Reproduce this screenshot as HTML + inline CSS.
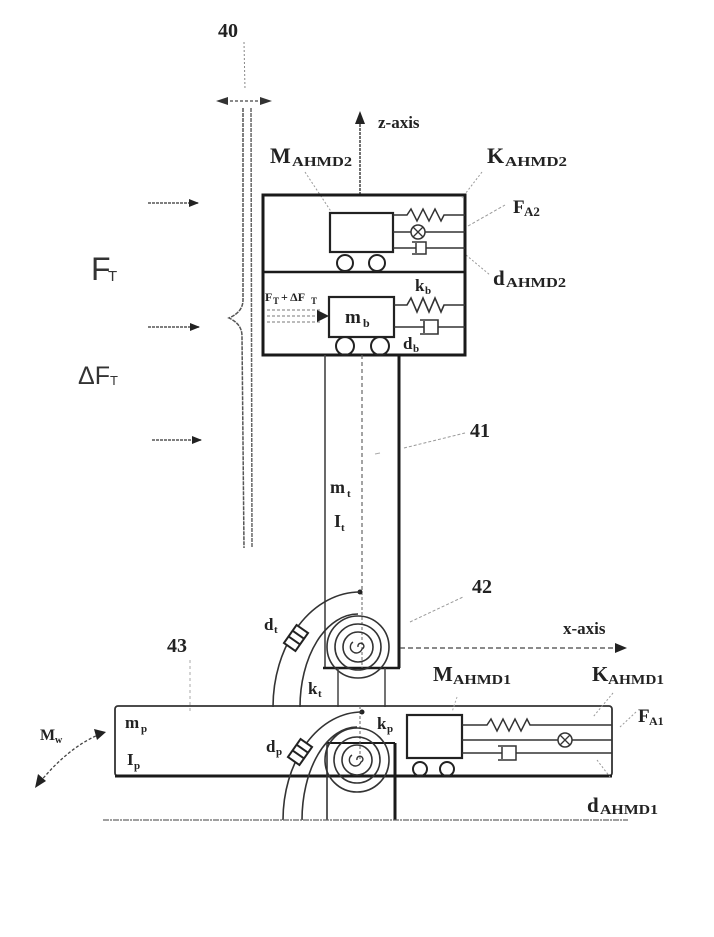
<!DOCTYPE html>
<html><head><meta charset="utf-8"><style>
html,body{margin:0;padding:0;background:#fff;}
svg{display:block;}
.s{font-family:"Liberation Serif",serif;font-weight:bold;fill:#222;}
.a{font-family:"Liberation Sans",sans-serif;fill:#333;}
</style></head><body>
<svg width="714" height="937" viewBox="0 0 714 937" xmlns="http://www.w3.org/2000/svg">
<defs>
<marker id="ah" markerWidth="10" markerHeight="8" refX="9" refY="4" orient="auto" markerUnits="userSpaceOnUse">
<path d="M0,0 L10,4 L0,8 Z" fill="#222"/></marker>
</defs>
<rect width="714" height="937" fill="#fff"/>

<!-- 40 -->
<text class="s" x="218" y="37" font-size="20">40</text>
<line x1="244" y1="42" x2="245" y2="90" stroke="#888" stroke-width="1" stroke-dasharray="2,2"/>
<line x1="220" y1="101" x2="268" y2="101" stroke="#444" stroke-width="1.2" stroke-dasharray="3,2"/>
<path d="M216,101 L228,97 L228,105 Z" fill="#333"/>
<path d="M272,101 L260,97 L260,105 Z" fill="#333"/>

<!-- blade -->
<path d="M243,108 L243,300 Q243,312 229,318 Q242,324 242,336 L244,548" fill="none" stroke="#555" stroke-width="1.5" stroke-dasharray="4,1"/>
<path d="M251,108 L252,548" fill="none" stroke="#666" stroke-width="1.5" stroke-dasharray="4,1"/>

<!-- wind arrows -->
<line x1="148" y1="203" x2="198" y2="203" stroke="#555" stroke-width="1.4" stroke-dasharray="3,1" marker-end="url(#ah)"/>
<line x1="148" y1="327" x2="199" y2="327" stroke="#555" stroke-width="1.4" stroke-dasharray="3,1" marker-end="url(#ah)"/>
<line x1="152" y1="440" x2="201" y2="440" stroke="#555" stroke-width="1.4" stroke-dasharray="3,1" marker-end="url(#ah)"/>
<text class="a" x="91" y="280" font-size="32" fill="#222">F</text>
<text class="a" x="108" y="281" font-size="15">T</text>
<text class="a" x="78" y="384" font-size="25">ΔF</text>
<text class="a" x="110" y="385" font-size="13">T</text>

<!-- z-axis -->
<line x1="360" y1="195" x2="360" y2="120" stroke="#444" stroke-width="1.5" stroke-dasharray="3,1"/>
<path d="M360,111 L355,124 L365,124 Z" fill="#222"/>
<text class="s" x="378" y="128" font-size="17">z-axis</text>

<!-- upper labels -->
<text class="s" x="270" y="163" font-size="22">M</text>
<text class="s" x="292" y="166" font-size="14" textLength="60" lengthAdjust="spacingAndGlyphs">AHMD2</text>
<line x1="305" y1="172" x2="338" y2="222" stroke="#999" stroke-width="1" stroke-dasharray="2,2"/>
<text class="s" x="487" y="163" font-size="22">K</text>
<text class="s" x="505" y="166" font-size="14" textLength="62" lengthAdjust="spacingAndGlyphs">AHMD2</text>
<line x1="482" y1="172" x2="462" y2="198" stroke="#999" stroke-width="1" stroke-dasharray="2,2"/>
<text class="s" x="513" y="213" font-size="19">F</text>
<text class="s" x="524" y="216" font-size="13">A2</text>
<line x1="468" y1="226" x2="505" y2="205" stroke="#999" stroke-width="1" stroke-dasharray="3,2"/>
<text class="s" x="493" y="285" font-size="21">d</text>
<text class="s" x="506" y="287" font-size="14" textLength="60" lengthAdjust="spacingAndGlyphs">AHMD2</text>
<line x1="466" y1="255" x2="490" y2="275" stroke="#999" stroke-width="1" stroke-dasharray="2,2"/>

<!-- upper box -->
<rect x="263" y="195" width="202" height="160" fill="none" stroke="#1a1a1a" stroke-width="3"/>
<line x1="263" y1="272" x2="465" y2="272" stroke="#1a1a1a" stroke-width="2.5"/>
<!-- AHMD2 mass -->
<rect x="330" y="213" width="63" height="39" fill="#fff" stroke="#222" stroke-width="2.2"/>
<circle cx="345" cy="263" r="8" fill="none" stroke="#222" stroke-width="2"/>
<circle cx="377" cy="263" r="8" fill="none" stroke="#222" stroke-width="2"/>
<path d="M393,215 L407,215 L411,209 L417,221 L423,209 L429,221 L435,209 L441,221 L444,215 L465,215" fill="none" stroke="#333" stroke-width="1.5"/>
<line x1="393" y1="232" x2="411" y2="232" stroke="#333" stroke-width="1.5"/>
<circle cx="418" cy="232" r="7" fill="none" stroke="#333" stroke-width="1.5"/>
<path d="M413,227 L423,237 M423,227 L413,237" stroke="#333" stroke-width="1.3"/>
<line x1="425" y1="232" x2="465" y2="232" stroke="#333" stroke-width="1.5"/>
<line x1="393" y1="248" x2="416" y2="248" stroke="#333" stroke-width="1.5"/>
<line x1="416" y1="243" x2="416" y2="253" stroke="#333" stroke-width="1.5"/>
<path d="M412,242 L426,242 L426,254 L412,254" fill="none" stroke="#333" stroke-width="1.5"/>
<line x1="426" y1="248" x2="465" y2="248" stroke="#333" stroke-width="1.5"/>

<!-- mb -->
<text class="s" x="265" y="301" font-size="12">F</text>
<text class="s" x="273" y="304" font-size="9">T</text>
<text class="s" x="281" y="301" font-size="12">+ ΔF</text>
<text class="s" x="311" y="304" font-size="9">T</text>
<line x1="267" y1="310" x2="322" y2="310" stroke="#777" stroke-width="1" stroke-dasharray="3,2"/>
<line x1="267" y1="316" x2="320" y2="316" stroke="#777" stroke-width="1" stroke-dasharray="3,2"/>
<line x1="267" y1="322" x2="322" y2="322" stroke="#777" stroke-width="1" stroke-dasharray="3,2"/>
<path d="M329,316 L317,310 L317,322 Z" fill="#222"/>
<rect x="329" y="297" width="65" height="40" fill="#fff" stroke="#222" stroke-width="2.2"/>
<text class="s" x="345" y="323" font-size="19">m</text>
<text class="s" x="363" y="327" font-size="12">b</text>
<circle cx="345" cy="346" r="9" fill="none" stroke="#222" stroke-width="2"/>
<circle cx="380" cy="346" r="9" fill="none" stroke="#222" stroke-width="2"/>
<text class="s" x="415" y="291" font-size="17">k</text>
<text class="s" x="425" y="294" font-size="11">b</text>
<path d="M394,305 L407,305 L411,298 L417,312 L423,298 L429,312 L435,298 L441,312 L444,305 L465,305" fill="none" stroke="#333" stroke-width="1.6"/>
<line x1="394" y1="327" x2="424" y2="327" stroke="#333" stroke-width="1.5"/>
<line x1="424" y1="321" x2="424" y2="333" stroke="#333" stroke-width="1.6"/>
<path d="M420,320 L438,320 L438,334 L420,334" fill="none" stroke="#333" stroke-width="1.6"/>
<line x1="438" y1="327" x2="465" y2="327" stroke="#333" stroke-width="1.5"/>
<text class="s" x="403" y="349" font-size="17">d</text>
<text class="s" x="413" y="352" font-size="11">b</text>

<!-- tower -->
<line x1="325" y1="355" x2="325" y2="668" stroke="#444" stroke-width="1.6"/>
<line x1="362" y1="355" x2="362" y2="592" stroke="#666" stroke-width="1.2" stroke-dasharray="4,3"/>
<line x1="399" y1="355" x2="399" y2="668" stroke="#1a1a1a" stroke-width="3"/>
<text class="s" x="470" y="437" font-size="20">41</text>
<line x1="404" y1="448" x2="465" y2="433" stroke="#999" stroke-width="1" stroke-dasharray="3,2"/>
<line x1="375" y1="454" x2="380" y2="453" stroke="#aaa" stroke-width="1"/>
<text class="s" x="330" y="493" font-size="18">m</text>
<text class="s" x="347" y="497" font-size="11">t</text>
<text class="s" x="334" y="527" font-size="18">I</text>
<text class="s" x="341" y="531" font-size="11">t</text>
<text class="s" x="472" y="593" font-size="20">42</text>
<line x1="410" y1="622" x2="463" y2="597" stroke="#999" stroke-width="1" stroke-dasharray="3,2"/>

<!-- upper joint -->
<line x1="323" y1="668" x2="400" y2="668" stroke="#1a1a1a" stroke-width="2.5"/>
<line x1="362" y1="592" x2="362" y2="668" stroke="#666" stroke-width="1" stroke-dasharray="3,2"/>
<circle cx="358" cy="647" r="31" fill="none" stroke="#333" stroke-width="1.6"/>
<circle cx="358" cy="647" r="23" fill="none" stroke="#333" stroke-width="1.6"/>
<circle cx="358" cy="647" r="15" fill="none" stroke="#333" stroke-width="1.6"/>
<path d="M358,647 a3,3 0 1 1 4,2 a6,6 0 1 1 -9,-7" fill="none" stroke="#333" stroke-width="1.4"/>
<circle cx="360" cy="592" r="2.5" fill="#222"/>
<path d="M360,592 A87,115 0 0 0 273,707" fill="none" stroke="#333" stroke-width="1.6"/>
<path d="M358,614 A58,93 0 0 0 300,707" fill="none" stroke="#333" stroke-width="1.6"/>
<g transform="translate(296,638) rotate(-55)">
<rect x="-11" y="-7" width="22" height="14" fill="#fff" stroke="#222" stroke-width="2"/>
<line x1="-3" y1="-7" x2="-3" y2="7" stroke="#222" stroke-width="2"/>
<line x1="4" y1="-7" x2="4" y2="7" stroke="#222" stroke-width="2"/>
</g>
<text class="s" x="264" y="630" font-size="17">d</text>
<text class="s" x="274" y="633" font-size="11">t</text>
<text class="s" x="308" y="694" font-size="17">k</text>
<text class="s" x="318" y="697" font-size="11">t</text>
<line x1="338" y1="668" x2="338" y2="707" stroke="#444" stroke-width="1.5"/>
<line x1="385" y1="668" x2="385" y2="707" stroke="#444" stroke-width="1.5"/>

<!-- x-axis -->
<line x1="400" y1="648" x2="618" y2="648" stroke="#444" stroke-width="1.3" stroke-dasharray="5,3"/>
<path d="M627,648 L615,643 L615,653 Z" fill="#222"/>
<text class="s" x="563" y="634" font-size="17">x-axis</text>

<!-- 43 -->
<text class="s" x="167" y="652" font-size="20">43</text>
<line x1="190" y1="660" x2="190" y2="712" stroke="#aaa" stroke-width="1" stroke-dasharray="3,3"/>

<!-- platform -->
<rect x="115" y="706" width="497" height="70" rx="3" fill="none" stroke="#333" stroke-width="1.8"/>
<line x1="115" y1="776" x2="612" y2="776" stroke="#1a1a1a" stroke-width="3"/>
<text class="s" x="125" y="728" font-size="17">m</text>
<text class="s" x="141" y="732" font-size="11">p</text>
<text class="s" x="127" y="765" font-size="17">I</text>
<text class="s" x="134" y="769" font-size="11">p</text>

<!-- lower joint -->
<line x1="327" y1="743" x2="395" y2="743" stroke="#1a1a1a" stroke-width="2"/>
<line x1="327" y1="743" x2="327" y2="820" stroke="#333" stroke-width="1.6"/>
<line x1="395" y1="743" x2="395" y2="820" stroke="#1a1a1a" stroke-width="3"/>
<line x1="360" y1="706" x2="360" y2="760" stroke="#666" stroke-width="1" stroke-dasharray="3,2"/>
<circle cx="357" cy="760" r="32" fill="none" stroke="#333" stroke-width="1.6"/>
<circle cx="357" cy="760" r="23" fill="none" stroke="#333" stroke-width="1.6"/>
<circle cx="357" cy="760" r="15" fill="none" stroke="#333" stroke-width="1.6"/>
<path d="M357,760 a3,3 0 1 1 4,2 a6,6 0 1 1 -9,-7" fill="none" stroke="#333" stroke-width="1.4"/>
<circle cx="362" cy="712" r="2.5" fill="#222"/>
<path d="M362,712 A79,108 0 0 0 283,820" fill="none" stroke="#333" stroke-width="1.6"/>
<path d="M357,727 A55,93 0 0 0 302,820" fill="none" stroke="#333" stroke-width="1.6"/>
<g transform="translate(300,752) rotate(-55)">
<rect x="-11" y="-7" width="22" height="14" fill="#fff" stroke="#222" stroke-width="2"/>
<line x1="-3" y1="-7" x2="-3" y2="7" stroke="#222" stroke-width="2"/>
<line x1="4" y1="-7" x2="4" y2="7" stroke="#222" stroke-width="2"/>
</g>
<text class="s" x="266" y="752" font-size="17">d</text>
<text class="s" x="276" y="755" font-size="11">p</text>
<text class="s" x="377" y="729" font-size="17">k</text>
<text class="s" x="387" y="732" font-size="11">p</text>

<!-- AHMD1 -->
<text class="s" x="433" y="681" font-size="21">M</text>
<text class="s" x="453" y="684" font-size="14" textLength="58" lengthAdjust="spacingAndGlyphs">AHMD1</text>
<line x1="457" y1="697" x2="452" y2="712" stroke="#aaa" stroke-width="1" stroke-dasharray="2,2"/>
<rect x="407" y="715" width="55" height="43" fill="#fff" stroke="#222" stroke-width="2.2"/>
<circle cx="420" cy="769" r="7" fill="none" stroke="#222" stroke-width="2"/>
<circle cx="447" cy="769" r="7" fill="none" stroke="#222" stroke-width="2"/>
<path d="M462,725 L487,725 L491,719 L497,731 L503,719 L509,731 L515,719 L521,731 L527,719 L530,725 L612,725" fill="none" stroke="#333" stroke-width="1.5"/>
<line x1="462" y1="740" x2="558" y2="740" stroke="#333" stroke-width="1.5"/>
<circle cx="565" cy="740" r="7" fill="none" stroke="#333" stroke-width="1.5"/>
<path d="M560,735 L570,745 M570,735 L560,745" stroke="#333" stroke-width="1.3"/>
<line x1="572" y1="740" x2="612" y2="740" stroke="#333" stroke-width="1.5"/>
<line x1="462" y1="753" x2="502" y2="753" stroke="#333" stroke-width="1.5"/>
<line x1="502" y1="747" x2="502" y2="759" stroke="#333" stroke-width="1.5"/>
<path d="M498,746 L516,746 L516,760 L498,760" fill="none" stroke="#333" stroke-width="1.5"/>
<line x1="516" y1="753" x2="612" y2="753" stroke="#333" stroke-width="1.5"/>
<text class="s" x="592" y="681" font-size="21">K</text>
<text class="s" x="608" y="684" font-size="14" textLength="56" lengthAdjust="spacingAndGlyphs">AHMD1</text>
<line x1="613" y1="693" x2="593" y2="717" stroke="#999" stroke-width="1" stroke-dasharray="2,2"/>
<text class="s" x="638" y="722" font-size="19">F</text>
<text class="s" x="649" y="725" font-size="12">A1</text>
<line x1="636" y1="712" x2="620" y2="727" stroke="#999" stroke-width="1" stroke-dasharray="2,2"/>
<text class="s" x="587" y="812" font-size="21">d</text>
<text class="s" x="600" y="814" font-size="14" textLength="58" lengthAdjust="spacingAndGlyphs">AHMD1</text>
<line x1="597" y1="760" x2="610" y2="777" stroke="#999" stroke-width="1" stroke-dasharray="2,2"/>

<!-- Mw -->
<text class="s" x="40" y="740" font-size="16">M</text>
<text class="s" x="55" y="743" font-size="10">w</text>
<path d="M40,782 Q68,748 98,735" fill="none" stroke="#444" stroke-width="1.3" stroke-dasharray="3,2"/>
<path d="M106,732 L94,729 L97,740 Z" fill="#222"/>
<path d="M35,788 L38,774 L46,781 Z" fill="#222"/>

<!-- ground -->
<line x1="103" y1="820" x2="628" y2="820" stroke="#666" stroke-width="1.3" stroke-dasharray="6,1,2,1"/>
</svg>
</body></html>
